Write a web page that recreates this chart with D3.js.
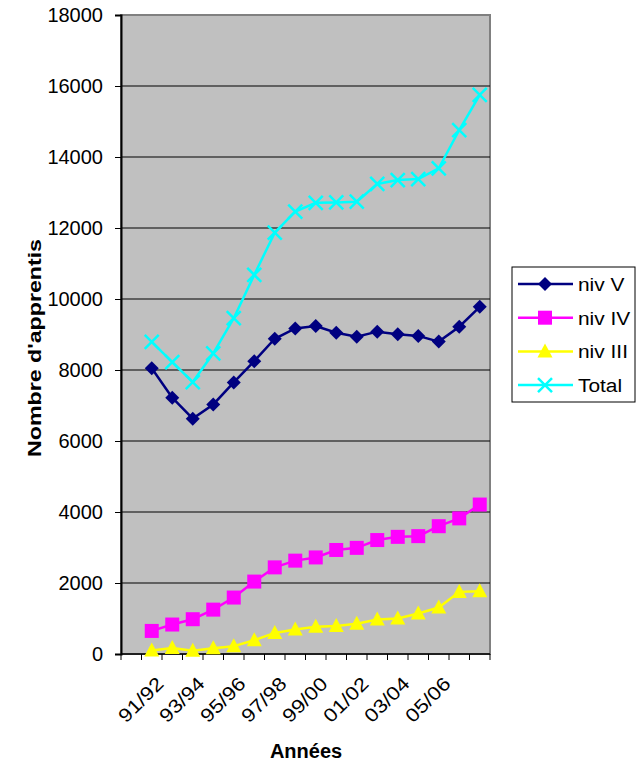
<!doctype html>
<html>
<meta charset="utf-8">
<style>
  body { margin: 0; background: #fff; }
  text { font-family: "Liberation Sans", Arial, sans-serif; }
</style>
<head>
  <script src="https://cdn.jsdelivr.net/npm/d3@7"></script>
</head>
<body>
<script>

var years = ["91/92", "92/93", "93/94", "94/95", "95/96", "96/97", "97/98", "98/99", "99/00",
             "00/01", "01/02", "02/03", "03/04", "04/05", "05/06", "06/07", "07/08"];
var xLabels = ["91/92", "93/94", "95/96", "97/98", "99/00", "01/02", "03/04", "05/06"];
var yTicks = [0, 2000, 4000, 6000, 8000, 10000, 12000, 14000, 16000, 18000];

var nivV   = [8050, 7220, 6630, 7030, 7650, 8250, 8880, 9170, 9240, 9050, 8940, 9080, 9010, 8960, 8800, 9220, 9780];
var nivIV  = [650, 830, 980, 1250, 1590, 2040, 2440, 2630, 2720, 2930, 2990, 3210, 3300, 3320, 3600, 3820, 4210];
var nivIII = [100, 170, 90, 160, 220, 390, 590, 690, 770, 790, 850, 970, 1000, 1140, 1310, 1750, 1770];
var total  = [8790, 8220, 7660, 8470, 9460, 10680, 11870, 12460, 12710, 12720, 12740, 13240, 13350, 13380, 13680, 14760, 15750];

var series = [
  {name: "niv V", values: nivV, color: "#000080", marker: "diamond"},
  {name: "niv IV", values: nivIV, color: "#ff00ff", marker: "square"},
  {name: "niv III", values: nivIII, color: "#ffff00", marker: "triangle"},
  {name: "Total", values: total, color: "#00ffff", marker: "cross"}
];

var width = 639, height = 767;
var plot = {left: 121, right: 490, top: 15, bottom: 654};

var svg = d3.select("body").append("svg")
  .attr("width", width)
  .attr("height", height);

// first slot of the category axis stays empty
var x = d3.scaleBand()
  .domain([""].concat(years))
  .range([plot.left, plot.right]);

var y = d3.scaleLinear()
  .domain([0, 18000])
  .range([plot.bottom, plot.top]);

function cx(i) { return x(years[i]) + x.bandwidth() / 2; }

// plot background
svg.append("rect")
  .attr("x", plot.left)
  .attr("y", plot.top)
  .attr("width", plot.right - plot.left)
  .attr("height", plot.bottom - plot.top)
  .attr("fill", "#c0c0c0")
  .attr("stroke", "#808080")
  .attr("stroke-width", 2);

// gridlines
svg.append("g")
  .selectAll("line")
  .data(yTicks.slice(1, -1))
  .enter().append("line")
  .attr("x1", plot.left)
  .attr("x2", plot.right)
  .attr("y1", function(d) { return y(d); })
  .attr("y2", function(d) { return y(d); })
  .attr("stroke", "#000")
  .attr("stroke-width", 1);

// y axis
var yAxis = svg.append("g")
  .attr("transform", "translate(" + plot.left + ",0)")
  .call(d3.axisLeft(y).tickValues(yTicks).tickSize(6).tickPadding(12).tickFormat(d3.format("d")));
yAxis.select(".domain").attr("stroke", "#000").attr("stroke-width", 2);
yAxis.selectAll(".tick text")
  .attr("font-size", 20)
  .attr("fill", "#000");

// x axis: ticks between categories
var xAxisG = svg.append("g");
xAxisG.append("line")
  .attr("x1", plot.left)
  .attr("x2", plot.right)
  .attr("y1", plot.bottom)
  .attr("y2", plot.bottom)
  .attr("stroke", "#000")
  .attr("stroke-width", 1.5);
xAxisG.selectAll("line.tk")
  .data(d3.range(x.domain().length + 1))
  .enter().append("line")
  .attr("class", "tk")
  .attr("x1", function(d) { return plot.left + d * x.bandwidth(); })
  .attr("x2", function(d) { return plot.left + d * x.bandwidth(); })
  .attr("y1", plot.bottom)
  .attr("y2", plot.bottom + 6)
  .attr("stroke", "#000");
xAxisG.selectAll("text")
  .data(xLabels)
  .enter().append("text")
  .attr("transform", function(d) {
    return "translate(" + (x(d) + x.bandwidth() / 2 + 13) + "," + (plot.bottom + 31) + ") rotate(-45) scale(1.15,1)";
  })
  .attr("text-anchor", "end")
  .attr("font-size", 19)
  .text(function(d) { return d; });

// axis titles
svg.append("text")
  .attr("x", 306)
  .attr("y", 758)
  .attr("text-anchor", "middle")
  .attr("font-size", 20)
  .attr("font-weight", "bold")
  .text("Années");

svg.append("text")
  .attr("transform", "translate(41,348) rotate(-90) scale(1.22,1)")
  .attr("text-anchor", "middle")
  .attr("font-size", 19)
  .attr("font-weight", "bold")
  .text("Nombre d'apprentis");

// markers
function drawMarker(g, type, color) {
  if (type === "diamond") {
    g.append("path").attr("d", "M0,-7L7,0L0,7L-7,0Z").attr("fill", color);
  } else if (type === "square") {
    g.append("rect").attr("x", -7).attr("y", -7).attr("width", 14).attr("height", 14).attr("fill", color);
  } else if (type === "triangle") {
    g.append("path").attr("d", "M0,-8L7.5,6L-7.5,6Z").attr("fill", color);
  } else {
    g.append("path").attr("d", "M-7,-7L7,7M-7,7L7,-7")
      .attr("stroke", color).attr("stroke-width", 2.5).attr("fill", "none");
  }
}

var line = d3.line()
  .x(function(d, i) { return cx(i); })
  .y(function(d) { return y(d); });

series.forEach(function(s) {
  var g = svg.append("g");
  g.append("path")
    .attr("d", line(s.values))
    .attr("fill", "none")
    .attr("stroke", s.color)
    .attr("stroke-width", 2.5);
  g.selectAll("g")
    .data(s.values)
    .enter().append("g")
    .attr("transform", function(d, i) { return "translate(" + cx(i) + "," + y(d) + ")"; })
    .each(function() { drawMarker(d3.select(this), s.marker, s.color); });
});

// legend
var legend = svg.append("g");
legend.append("rect")
  .attr("x", 512)
  .attr("y", 267)
  .attr("width", 123)
  .attr("height", 135)
  .attr("fill", "#fff")
  .attr("stroke", "#000")
  .attr("stroke-width", 1);

var items = legend.selectAll("g.item")
  .data(series)
  .enter().append("g")
  .attr("class", "item")
  .attr("transform", function(d, i) { return "translate(0," + (284 + i * 33.7) + ")"; });
items.append("line")
  .attr("x1", 518)
  .attr("x2", 573)
  .attr("stroke", function(d) { return d.color; })
  .attr("stroke-width", 2.5);
items.append("g")
  .attr("transform", "translate(545,0)")
  .each(function(d) { drawMarker(d3.select(this), d.marker, d.color); });
items.append("text")
  .attr("transform", "translate(578,7) scale(1.1,1)")
  .attr("font-size", 19)
  .text(function(d) { return d.name; });

</script>
</body>
</html>
